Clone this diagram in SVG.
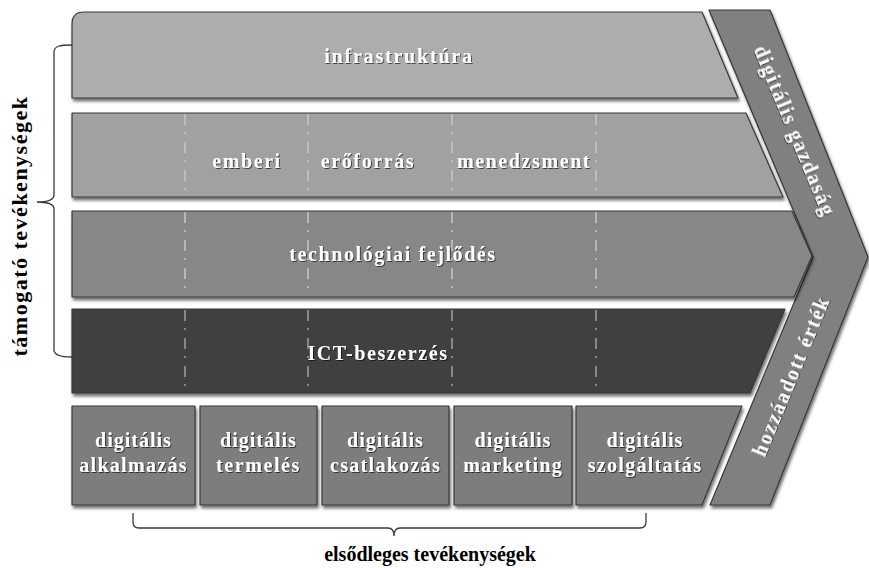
<svg xmlns="http://www.w3.org/2000/svg" width="869" height="568" viewBox="0 0 869 568">
<defs>
<filter id="sh" x="-5%" y="-5%" width="115%" height="125%">
<feDropShadow dx="1.5" dy="3" stdDeviation="1.8" flood-color="#000" flood-opacity="0.55"/>
</filter>
<filter id="tsh" x="-5%" y="-20%" width="110%" height="150%">
<feDropShadow dx="1" dy="1" stdDeviation="0.6" flood-color="#000" flood-opacity="0.6"/>
</filter>
</defs>
<style>
.shape{stroke:#383838;stroke-width:1.2;filter:url(#sh);stroke-linejoin:round}
.wt{font-family:"Liberation Serif","Times New Roman",serif;font-weight:bold;fill:#ffffff;font-size:20px;letter-spacing:1.6px;text-anchor:middle;filter:url(#tsh)}
.bt{font-family:"Liberation Serif","Times New Roman",serif;font-weight:bold;fill:#000000;font-size:20px;text-anchor:middle}
.dash{stroke:#c4c4c4;stroke-width:1.6;stroke-dasharray:11 7 2 8;fill:none}
.brace{fill:none;stroke:#3a3a3a;stroke-width:1.3}
</style>
<rect width="869" height="568" fill="#ffffff"/>

<g id="chevron">
<path class="shape" d="M709,10 L770,10 L868,257 L770,505 L710,505 L813,257 Z" fill="#808080"/>
<text class="wt" style="letter-spacing:1.8px" transform="translate(795,131) rotate(67.5)" dominant-baseline="central">digitális gazdaság</text>
<text class="wt" style="letter-spacing:1.8px" transform="translate(791,376) rotate(-67.5)" dominant-baseline="central">hozzáadott érték</text>
</g>

<g id="infrastruktura">
<path class="shape" d="M84,12 L702,12 L738,98 L72,98 L72,24 Q72,12 84,12 Z" fill="#adadad"/>
<text class="wt" x="399" y="63" style="letter-spacing:1.8px">infrastruktúra</text>
</g>

<g id="emberi-eroforras">
<path class="shape" d="M72,113 L746,113 L783,197 L72,197 Z" fill="#a1a1a1"/>
<text class="wt" x="247" y="168">emberi</text>
<text class="wt" x="368" y="168">erőforrás</text>
<text class="wt" x="524" y="168">menedzsment</text>
</g>

<g id="technologiai-fejlodes">
<path class="shape" d="M72,211 L792,211 L812,256 L794,297 L72,297 Z" fill="#878787"/>
<text class="wt" x="393" y="261">technológiai fejlődés</text>
</g>

<g id="ict-beszerzes">
<path class="shape" d="M72,309 L785,309 L750,393 L72,393 Z" fill="#3f3f3f"/>
<text class="wt" x="378" y="360">ICT-beszerzés</text>
</g>

<g id="dashes">
<path class="dash" d="M185,114 V196 M308,114 V196 M452,114 V196 M596,114 V196"/>
<path class="dash" d="M185,212 V296 M308,212 V296 M452,212 V296 M596,212 V296"/>
<path class="dash" d="M185,310 V392 M308,310 V392 M452,310 V392 M596,310 V392" style="stroke:#9a9a9a"/>
</g>

<g id="digitalis-alkalmazas">
<rect class="shape" x="72" y="406" width="123" height="99" fill="#7d7d7d"/>
<text class="wt" x="133.5" y="447" style="letter-spacing:1px">digitális</text>
<text class="wt" x="133.5" y="472" style="letter-spacing:1.3px">alkalmazás</text>
</g>
<g id="digitalis-termeles">
<rect class="shape" x="200" y="406" width="117" height="99" fill="#7d7d7d"/>
<text class="wt" x="258.5" y="447" style="letter-spacing:1px">digitális</text>
<text class="wt" x="258.5" y="472">termelés</text>
</g>
<g id="digitalis-csatlakozas">
<rect class="shape" x="322" y="406" width="127" height="99" fill="#7d7d7d"/>
<text class="wt" x="385.5" y="447" style="letter-spacing:1px">digitális</text>
<text class="wt" x="385.5" y="472" style="letter-spacing:1.3px">csatlakozás</text>
</g>
<g id="digitalis-marketing">
<rect class="shape" x="454" y="406" width="118" height="99" fill="#7d7d7d"/>
<text class="wt" x="513" y="447" style="letter-spacing:1px">digitális</text>
<text class="wt" x="513" y="472" style="letter-spacing:1.2px">marketing</text>
</g>
<g id="digitalis-szolgaltatas">
<path class="shape" d="M576,406 L742,406 L702,505 L576,505 Z" fill="#7d7d7d"/>
<text class="wt" x="645" y="447" style="letter-spacing:1px">digitális</text>
<text class="wt" x="645" y="472" style="letter-spacing:1.3px">szolgáltatás</text>
</g>

<g id="connectors">
<path class="brace" d="M72,45 C60,45 54,46 54,52 L54,195 C54,200 49,202 37,202 C49,202 54,204 54,209 L54,350 C54,355 60,357 72,357"/>
<path class="brace" d="M133,513 L133,522 Q133,528 139,528 L388,528 Q394,528 394,536 Q394,528 400,528 L640,528 Q646,528 646,522 L646,513"/>
</g>

<g id="labels">
<text class="bt" style="font-size:22px;letter-spacing:1.5px" transform="translate(27,226) rotate(-90)">támogató tevékenységek</text>
<text class="bt" x="430" y="561">elsődleges tevékenységek</text>
</g>
</svg>
